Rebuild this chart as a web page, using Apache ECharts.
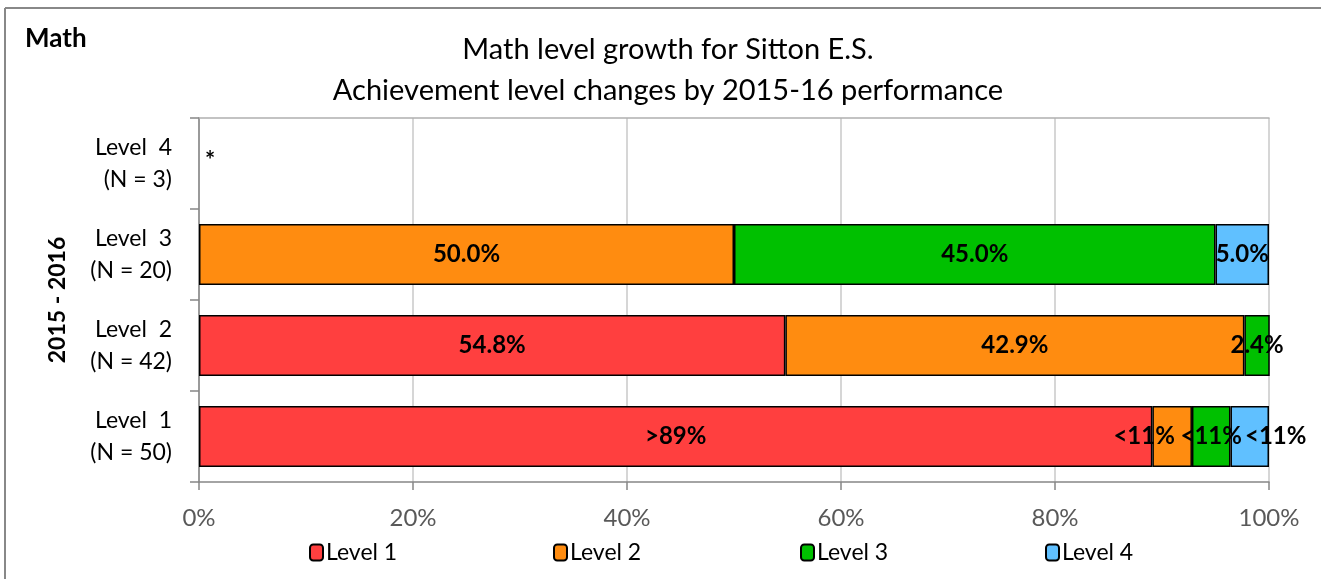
<!DOCTYPE html>
<html>
<head>
<meta charset="utf-8">
<script src="https://cdn.jsdelivr.net/npm/echarts@6/dist/echarts.min.js"></script>
<style>html,body{margin:0;padding:0;background:#fff;overflow:hidden}#c{width:1321px;height:579px}</style>
</head>
<body>
<div id="c"></div>
<script>
// ---- data ----
const categories = ['Level  1', 'Level  2', 'Level  3', 'Level  4'];
const counts = [50, 42, 20, 3];
const seriesNames = ['Level 1', 'Level 2', 'Level 3', 'Level 4'];
const level1Values = [89.1, 54.8, null, 0];
const level2Values = [3.7, 42.9, 50.0, null];
const level3Values = [3.6, 2.4, 45.0, null];
const level4Values = [3.6, null, 5.0, null];
const level1Labels = ['>89%', '54.8%', '', '*'];
const level2Labels = ['<11%', '42.9%', '50.0%', ''];
const level3Labels = ['<11%', '2.4%', '45.0%', ''];
const level4Labels = ['<11%', '', '5.0%', ''];
const xTicks = [0, 20, 40, 60, 80, 100];
const colors = ['#ff3f3f', '#ff8c10', '#00c000', '#60c0ff'];

const FONT = 'Lato, "Open Sans", sans-serif';
const values = [level1Values, level2Values, level3Values, level4Values];
const labels = [level1Labels, level2Labels, level3Labels, level4Labels];
// horizontal nudges of crowded labels in the Level 1 row (as in the original layout)
const crowdedShift = [0, -28, 0, 26];

const series = seriesNames.map((name, si) => ({
  name: name,
  type: 'bar',
  stack: 'total',
  barWidth: '67%',
  itemStyle: { color: colors[si], borderColor: '#000', borderWidth: 1.5 },
  label: { show: true, color: '#000', fontWeight: 'bold', fontSize: 24, fontFamily: FONT },
  data: values[si].map((v, ci) => {
    const lab = labels[si][ci];
    const d = { value: v };
    if (lab === '*') {
      d.label = { show: true, position: 'right', distance: 6, formatter: '*', fontSize: 24, offset: [0, -2] };
      d.itemStyle = { borderWidth: 0 };
    } else {
      d.label = { show: !!lab, position: 'inside', formatter: lab };
      if (lab === '<11%') d.label.offset = [crowdedShift[si], 0];
    }
    return d;
  })
}));

const legendLefts = [309, 553, 800, 1045];
const legends = seriesNames.map((n, i) => ({
  data: [n], left: legendLefts[i], top: 541, padding: 0, itemWidth: 13, itemHeight: 16, itemGap: 5,
  textStyle: { fontSize: 23, color: '#000', fontFamily: FONT, padding: [0, 0, 0, -2] }
}));

const chart = echarts.init(document.getElementById('c'));
chart.setOption({
  animation: false,
  backgroundColor: '#fff',
  textStyle: { fontFamily: FONT },
  title: {
    text: 'Math level growth for Sitton E.S.\nAchievement level changes by 2015-16 performance',
    left: 663, textAlign: 'center', top: 24,
    textStyle: { fontSize: 29, fontWeight: 'normal', color: '#000', lineHeight: 41, fontFamily: FONT }
  },
  graphic: [
    { type: 'line', shape: { x1: 5, y1: 8, x2: 1340, y2: 8 }, style: { stroke: '#888', lineWidth: 2 }, silent: true },
    { type: 'line', shape: { x1: 5, y1: 8, x2: 5, y2: 600 }, style: { stroke: '#888', lineWidth: 2 }, silent: true },
    { type: 'text', left: 25, top: 26, style: { text: 'Math', fontSize: 26, fontWeight: 'bold', fill: '#000', fontFamily: FONT } }
  ],
  legend: legends,
  grid: { left: 199, right: 52, top: 118, bottom: 97 },
  xAxis: [{
    type: 'value', min: 0, max: 100, interval: 20,
    axisLine: { show: true, lineStyle: { color: '#868686', width: 1.5 } },
    axisTick: { show: true, length: 8, lineStyle: { color: '#868686', width: 1.5 } },
    splitLine: { show: true, lineStyle: { color: '#c8c8c8', width: 1.5 } },
    axisLabel: { formatter: v => xTicks.includes(v) ? v + '%' : '', fontSize: 24, color: '#595959', margin: 24, fontFamily: FONT }
  }, {
    type: 'value', min: 0, max: 100, position: 'top',
    axisLine: { show: true, lineStyle: { color: '#b0b0b0', width: 1.5 } },
    axisTick: { show: false }, axisLabel: { show: false }, splitLine: { show: false }
  }],
  yAxis: {
    type: 'category',
    data: categories.map((c, i) => c + '\n(N = ' + counts[i] + ')'),
    name: '2015 - 2016', nameLocation: 'middle', nameRotate: 90, nameGap: 130,
    nameTextStyle: { fontSize: 23, fontWeight: 'bold', color: '#000', fontFamily: FONT },
    axisLine: { show: true, lineStyle: { color: '#868686', width: 1.5 } },
    axisTick: { show: true, length: 9, lineStyle: { color: '#868686', width: 1.5 } },
    axisLabel: { fontSize: 23, color: '#000', lineHeight: 32, margin: 27, align: 'right', fontFamily: FONT }
  },
  series: series
});
</script>
</body>
</html>
